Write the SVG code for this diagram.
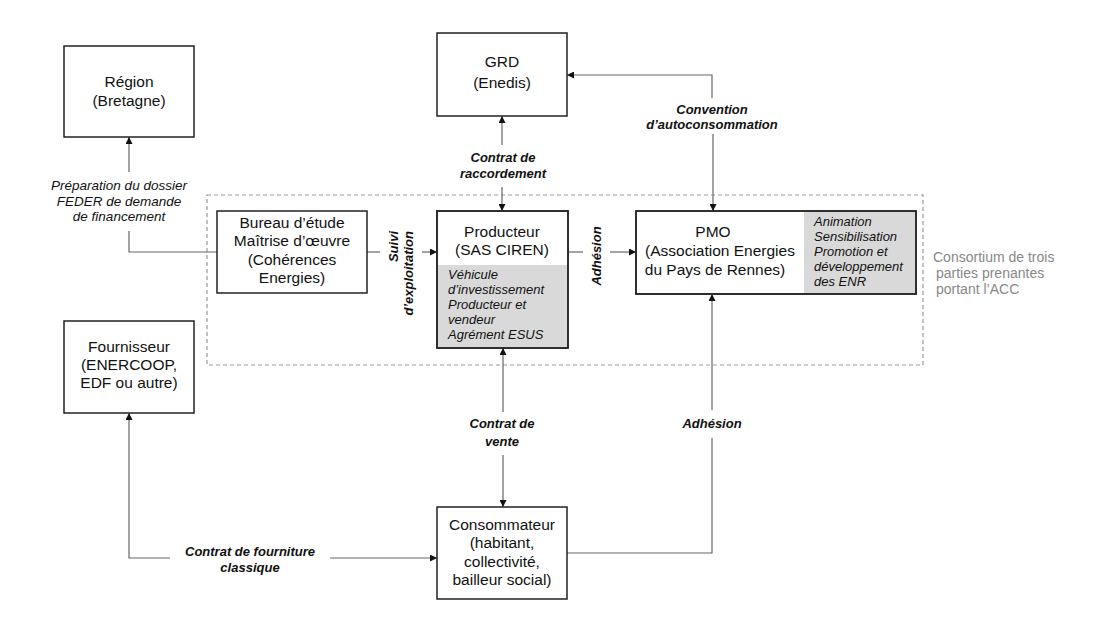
<svg xmlns="http://www.w3.org/2000/svg" width="1096" height="618" viewBox="0 0 1096 618">
<style>
  .box{fill:#fff;stroke:#222;stroke-width:1.5}
  .gray{fill:#d9d9d9;stroke:none}
  .t{font-family:"Liberation Sans",Arial,sans-serif;font-size:15.5px;fill:#111;text-anchor:middle}
  .ti{font-family:"Liberation Sans",Arial,sans-serif;font-size:13px;font-style:italic;fill:#111}
  .lb{font-family:"Liberation Sans",Arial,sans-serif;font-size:13px;font-style:italic;font-weight:bold;fill:#111;text-anchor:middle}
  .li{font-family:"Liberation Sans",Arial,sans-serif;font-size:13.5px;font-style:italic;fill:#111;text-anchor:middle}
  .cons{font-family:"Liberation Sans",Arial,sans-serif;font-size:14px;fill:#888}
  .c{fill:none;stroke:#666;stroke-width:1.2}
</style>
<defs>
  <marker id="ah" viewBox="0 0 10 10" refX="10" refY="5" markerWidth="7" markerHeight="7" markerUnits="userSpaceOnUse" orient="auto">
    <path d="M0,0 L10,5 L0,10 z" fill="#111"/>
  </marker>
</defs>
<rect width="1096" height="618" fill="#fff"/>

<rect id="consortium" x="207" y="195" width="716" height="170" fill="none" stroke="#999" stroke-width="1.2" stroke-dasharray="4,3"/>
<text class="cons"><tspan x="933" y="262">Consortium de trois</tspan><tspan x="936" y="278">parties prenantes</tspan><tspan x="936" y="294">portant l’ACC</tspan></text>

<g id="connectors">
  <!-- Bureau -> Region -->
  <polyline class="c" points="217,252 129,252 129,231"/>
  <line class="c" x1="129" y1="172" x2="129" y2="137" marker-end="url(#ah)"/>
  <text class="li"><tspan x="119" y="190">Préparation du dossier</tspan><tspan x="119" y="206">FEDER de demande</tspan><tspan x="119" y="221">de financement</tspan></text>
  <!-- GRD <-> Producteur -->
  <line class="c" x1="502" y1="145" x2="502" y2="116" marker-end="url(#ah)"/>
  <line class="c" x1="502" y1="187" x2="502" y2="211" marker-end="url(#ah)"/>
  <text class="lb"><tspan x="503" y="162">Contrat de</tspan><tspan x="503" y="178">raccordement</tspan></text>
  <!-- PMO <-> GRD -->
  <polyline class="c" points="712,98 712,75 567,75" marker-end="url(#ah)"/>
  <line class="c" x1="713" y1="134" x2="713" y2="211" marker-end="url(#ah)"/>
  <text class="lb"><tspan x="712" y="114">Convention</tspan><tspan x="712" y="129">d’autoconsommation</tspan></text>
  <!-- Bureau -> Producteur -->
  <line class="c" x1="367" y1="252" x2="380" y2="252"/>
  <line class="c" x1="422" y1="252" x2="437" y2="252" marker-end="url(#ah)"/>
  <text class="lb" text-anchor="end" style="text-anchor:end" transform="translate(398,231) rotate(-90)">Suivi</text>
  <text class="lb" style="text-anchor:end" transform="translate(413,231) rotate(-90)">d’exploitation</text>
  <!-- Producteur -> PMO -->
  <line class="c" x1="568" y1="252" x2="583" y2="252"/>
  <line class="c" x1="610" y1="252" x2="636" y2="252" marker-end="url(#ah)"/>
  <text class="lb" transform="translate(601,256) rotate(-90)">Adhésion</text>
  <!-- Producteur <-> Consommateur -->
  <line class="c" x1="503" y1="412" x2="503" y2="348" marker-end="url(#ah)"/>
  <line class="c" x1="503" y1="455" x2="503" y2="507" marker-end="url(#ah)"/>
  <text class="lb"><tspan x="502" y="428">Contrat de</tspan><tspan x="502" y="446">vente</tspan></text>
  <!-- Consommateur -> PMO -->
  <polyline class="c" points="567,553 712,553 712,438"/>
  <line class="c" x1="712" y1="410" x2="712" y2="294" marker-end="url(#ah)"/>
  <text class="lb" x="712" y="428">Adhésion</text>
  <!-- Consommateur <-> Fournisseur -->
  <polyline class="c" points="170,558 129,558 129,413" marker-end="url(#ah)"/>
  <line class="c" x1="330" y1="558" x2="437" y2="558" marker-end="url(#ah)"/>
  <text class="lb"><tspan x="250" y="556">Contrat de fourniture</tspan><tspan x="250" y="572">classique</tspan></text>
</g>

<g id="region">
  <rect class="box" x="64" y="46" width="130" height="91"/>
  <text class="t"><tspan x="129" y="87">Région</tspan><tspan x="129" y="106">(Bretagne)</tspan></text>
</g>

<g id="grd">
  <rect class="box" x="437" y="33" width="130" height="83"/>
  <text class="t"><tspan x="502" y="67">GRD</tspan><tspan x="502" y="88">(Enedis)</tspan></text>
</g>

<g id="bureau">
  <rect class="box" x="217" y="211" width="150" height="82"/>
  <text class="t"><tspan x="292" y="228">Bureau d’étude</tspan><tspan x="292" y="246">Maîtrise d’œuvre</tspan><tspan x="292" y="265">(Cohérences</tspan><tspan x="292" y="283">Energies)</tspan></text>
</g>

<g id="producteur">
  <rect class="box" x="437" y="211" width="131" height="137"/>
  <rect class="gray" x="438" y="265" width="129" height="82"/>
  <rect x="437" y="211" width="131" height="137" fill="none" stroke="#222" stroke-width="1.5"/>
  <text class="t"><tspan x="502" y="237">Producteur</tspan><tspan x="502" y="255">(SAS CIREN)</tspan></text>
  <text class="ti"><tspan x="448" y="279">Véhicule</tspan><tspan x="448" y="294">d’investissement</tspan><tspan x="448" y="309">Producteur et</tspan><tspan x="448" y="324">vendeur</tspan><tspan x="448" y="339">Agrément ESUS</tspan></text>
</g>

<g id="pmo">
  <rect class="box" x="636" y="211" width="280" height="83"/>
  <rect class="gray" x="804" y="212" width="111" height="81"/>
  <rect x="636" y="211" width="280" height="83" fill="none" stroke="#222" stroke-width="1.5"/>
  <text class="t"><tspan x="713" y="237">PMO</tspan><tspan x="720" y="256">(Association Energies</tspan><tspan x="715" y="275">du Pays de Rennes)</tspan></text>
  <text class="ti"><tspan x="814" y="226">Animation</tspan><tspan x="814" y="241">Sensibilisation</tspan><tspan x="814" y="256">Promotion et</tspan><tspan x="814" y="271">développement</tspan><tspan x="814" y="286">des ENR</tspan></text>
</g>

<g id="fournisseur">
  <rect class="box" x="64" y="321" width="130" height="92"/>
  <text class="t"><tspan x="129" y="352">Fournisseur</tspan><tspan x="129" y="370">(ENERCOOP,</tspan><tspan x="129" y="388">EDF ou autre)</tspan></text>
</g>

<g id="consommateur">
  <rect class="box" x="437" y="507" width="130" height="92"/>
  <text class="t"><tspan x="502" y="530">Consommateur</tspan><tspan x="502" y="548">(habitant,</tspan><tspan x="502" y="567">collectivité,</tspan><tspan x="502" y="585">bailleur social)</tspan></text>
</g>
</svg>
